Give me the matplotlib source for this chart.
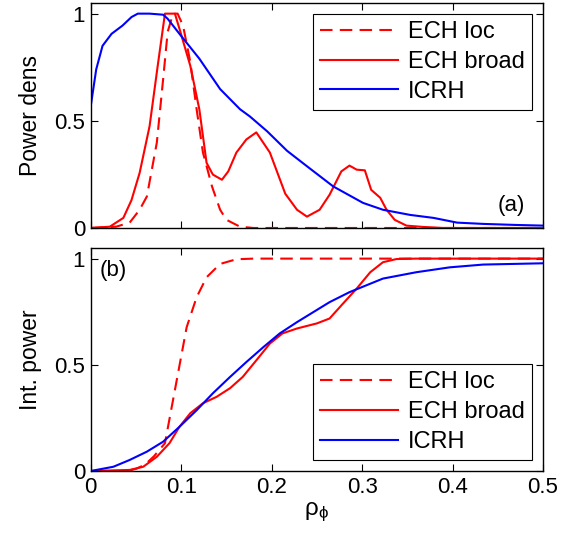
import matplotlib
matplotlib.use('Agg')
import matplotlib.pyplot as plt

plt.rcParams['font.family'] = ['Liberation Sans', 'DejaVu Sans']
plt.rcParams['mathtext.fontset'] = 'dejavusans'

# top panel: power density profiles
x_icrh = [0.0, 0.006, 0.013, 0.023, 0.035, 0.045, 0.052, 0.065, 0.08, 0.085, 0.098,
          0.12, 0.143, 0.165, 0.176, 0.195, 0.217, 0.239, 0.268, 0.301, 0.323, 0.353,
          0.379, 0.405, 0.434, 0.471, 0.5]
p_icrh = [0.57, 0.74, 0.85, 0.906, 0.944, 0.984, 1.0, 1.0, 0.995, 0.976, 0.906,
          0.79, 0.648, 0.554, 0.52, 0.451, 0.36, 0.288, 0.194, 0.117, 0.085, 0.061,
          0.047, 0.025, 0.019, 0.014, 0.011]

x_broad = [0.0, 0.021, 0.036, 0.045, 0.054, 0.065, 0.074, 0.082, 0.093, 0.098, 0.11,
           0.12, 0.128, 0.135, 0.145, 0.152, 0.161, 0.172, 0.183, 0.198, 0.215, 0.228,
           0.239, 0.253, 0.264, 0.277, 0.286, 0.294, 0.303, 0.31, 0.32, 0.327, 0.336,
           0.349, 0.367, 0.39, 0.5]
p_broad = [0.0, 0.006, 0.047, 0.13, 0.257, 0.475, 0.757, 1.0, 1.0, 0.93, 0.757,
           0.554, 0.304, 0.249, 0.225, 0.264, 0.352, 0.413, 0.446, 0.352, 0.16, 0.085,
           0.053, 0.085, 0.155, 0.264, 0.291, 0.272, 0.269, 0.178, 0.141, 0.085, 0.038,
           0.011, 0.005, 0.0, 0.0]

x_loc = [0.0, 0.028, 0.043, 0.054, 0.062, 0.073, 0.08, 0.085, 0.091, 0.096, 0.102,
         0.11, 0.117, 0.124, 0.134, 0.143, 0.15, 0.165, 0.18, 0.5]
p_loc = [0.0, 0.006, 0.025, 0.085, 0.147, 0.398, 0.695, 0.915, 1.0, 1.0, 0.944,
         0.775, 0.554, 0.352, 0.194, 0.085, 0.038, 0.006, 0.0, 0.0]

# bottom panel: integrated power
xi_loc = [0.0, 0.04, 0.05, 0.06, 0.07, 0.082, 0.095, 0.106, 0.117, 0.128, 0.143,
          0.161, 0.18, 0.5]
i_loc = [0.0, 0.0, 0.01, 0.03, 0.07, 0.131, 0.427, 0.677, 0.818, 0.912, 0.975,
         0.997, 1.0, 1.0]

xi_broad = [0.0, 0.043, 0.058, 0.073, 0.087, 0.098, 0.11, 0.124, 0.139, 0.154, 0.168,
            0.183, 0.198, 0.212, 0.228, 0.25, 0.264, 0.279, 0.294, 0.309, 0.323,
            0.338, 0.36, 0.5]
i_broad = [0.0, 0.005, 0.02, 0.067, 0.131, 0.208, 0.272, 0.319, 0.349, 0.39, 0.443,
           0.521, 0.6, 0.648, 0.671, 0.695, 0.718, 0.789, 0.859, 0.936, 0.983,
           0.998, 1.0, 1.0]

xi_icrh = [0.0, 0.025, 0.043, 0.062, 0.08, 0.098, 0.117, 0.135, 0.154, 0.172, 0.191,
           0.209, 0.228, 0.246, 0.264, 0.286, 0.323, 0.36, 0.397, 0.434, 0.5]
i_icrh = [0.0, 0.02, 0.052, 0.091, 0.138, 0.208, 0.286, 0.366, 0.443, 0.513, 0.584,
          0.648, 0.701, 0.748, 0.795, 0.842, 0.906, 0.936, 0.959, 0.972, 0.978]

labels = ['ECH loc', 'ECH broad', 'ICRH']

fs_tick = 16
fs_lab = 16.5
fs_leg = 17
lw = 1.5
dash = (6, 3.5)

fig = plt.figure(figsize=(5.71, 5.41), dpi=100)
ax1 = fig.add_axes([0.159, 0.5786, 0.792, 0.416])
ax2 = fig.add_axes([0.159, 0.1294, 0.792, 0.4122])

ax1.plot(x_loc, p_loc, color='red', lw=lw, dashes=dash, label=labels[0])
ax1.plot(x_broad, p_broad, color='red', lw=lw, label=labels[1])
ax1.plot(x_icrh, p_icrh, color='blue', lw=lw, label=labels[2])

ax2.plot(xi_loc, i_loc, color='red', lw=lw, dashes=dash, label=labels[0])
ax2.plot(xi_broad, i_broad, color='red', lw=lw, label=labels[1])
ax2.plot(xi_icrh, i_icrh, color='blue', lw=lw, label=labels[2])

for ax in (ax1, ax2):
    ax.set_xlim(0, 0.5)
    ax.set_ylim(0, 1.05)
    ax.set_xticks([0, 0.1, 0.2, 0.3, 0.4, 0.5])
    ax.set_yticks([0, 0.5, 1])
    ax.set_yticklabels(['0', '0.5', '1'])
    ax.tick_params(direction='in', top=True, right=True, labelsize=fs_tick,
                   length=5, width=0.8, pad=4)
    for s in ax.spines.values():
        s.set_linewidth(1.0)
    leg = ax.legend(fontsize=fs_leg, handlelength=3.3, handletextpad=0.45,
                    borderpad=0.3, labelspacing=0.33, fancybox=False,
                    edgecolor='black', framealpha=1, borderaxespad=0,
                    loc='upper right' if ax is ax1 else 'lower right',
                    bbox_to_anchor=(0.976, 0.951) if ax is ax1 else (0.976, 0.049))
    leg.get_frame().set_linewidth(0.8)

ax1.set_xticklabels([])
ax2.set_xticklabels(['0', '0.1', '0.2', '0.3', '0.4', '0.5'])

ax1.set_ylabel('Power dens', fontsize=fs_lab, labelpad=9)
ax2.set_ylabel('Int. power', fontsize=fs_lab, labelpad=9)
ax2.set_xlabel(r'$\mathregular{\rho_\phi}$', fontsize=fs_lab + 1, labelpad=2)

ax1.text(0.96, 0.1, '(a)', transform=ax1.transAxes, fontsize=fs_tick,
         ha='right', va='center')
ax2.text(0.02, 0.9, '(b)', transform=ax2.transAxes, fontsize=fs_tick,
         ha='left', va='center')

fig.savefig('out.png', dpi=100)
